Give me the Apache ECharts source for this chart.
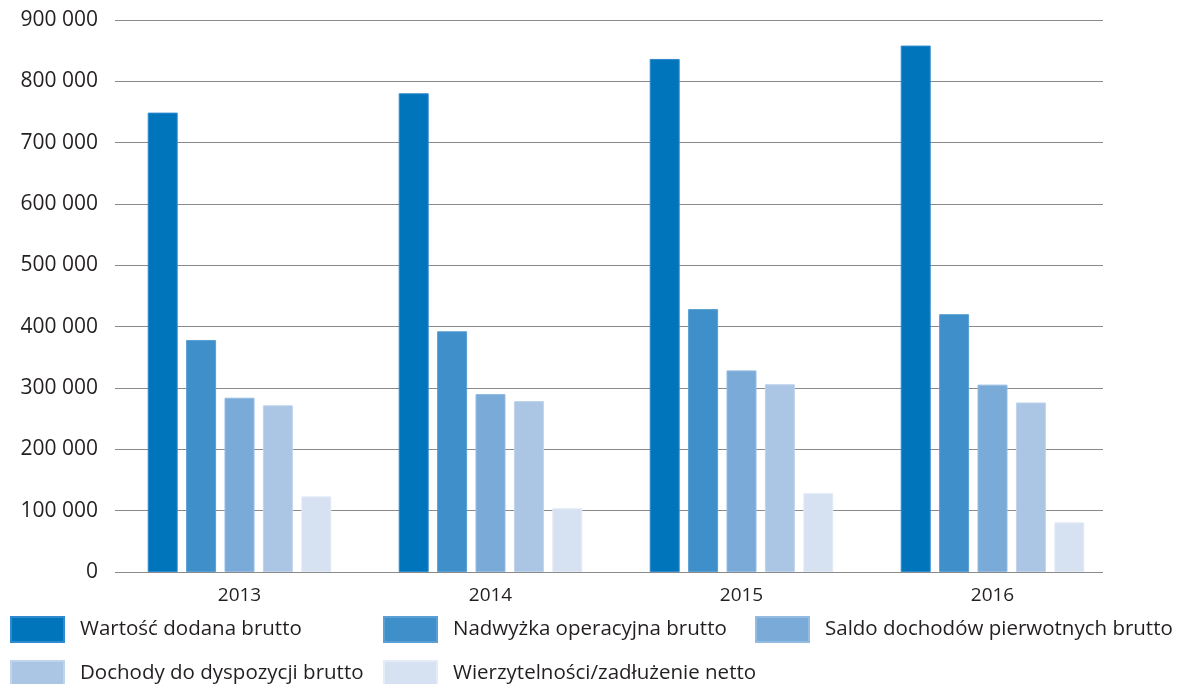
<!DOCTYPE html>
<html><head><meta charset="utf-8">
<script src="https://cdn.jsdelivr.net/npm/echarts@6/dist/echarts.min.js"></script>
<style>html,body{margin:0;padding:0;background:#fff}#c{width:1179px;height:684px}</style>
</head><body><div id="c"></div>
<script>
const categories = ['2013', '2014', '2015', '2016'];
const seriesNames = ['Wartość dodana brutto', 'Nadwyżka operacyjna brutto', 'Saldo dochodów pierwotnych brutto', 'Dochody do dyspozycji brutto', 'Wierzytelności/zadłużenie netto'];
const wartoscDodana = [749000, 780500, 836500, 858300];
const nadwyzka = [378300, 392500, 428700, 420400];
const saldoDochodow = [284200, 290200, 328700, 305500];
const dochodyDyspozycji = [271800, 278800, 306200, 276400];
const wierzytelnosci = [123400, 103800, 128700, 81000];
const yMin = 0, yMax = 900000, yStep = 100000;
const seriesValues = [wartoscDodana, nadwyzka, saldoDochodow, dochodyDyspozycji, wierzytelnosci];
const colors = ['#0075bc', '#3f8fca', '#7aaad8', '#abc5e5', '#d6e2f2'];
const borders = ['#2f8ad0', '#5aa0d4', '#94bce2', '#c0d4ec', '#e4ecf7'];
const FONT = 'Open Sans';
const legendPos = [[5, 611], [378, 611], [750, 611], [5, 655], [378, 655]];

const chart = echarts.init(document.getElementById('c'));
chart.setOption({
  animation: false,
  color: colors,
  grid: [
    { left: 114, right: 61, top: 20, bottom: 112, containLabel: false },
    { left: 115, right: 76, top: 20, bottom: 112, containLabel: false }
  ],
  legend: seriesNames.map((n, i) => ({
    data: [n], left: legendPos[i][0], top: legendPos[i][1],
    itemWidth: 53, itemHeight: 25, icon: 'rect',
    textStyle: { fontFamily: FONT, fontSize: 20.5, color: '#231f20', padding: [0, 0, 0, 11] },
    selectedMode: false
  })),
  xAxis: [
    {
      type: 'category', data: categories, gridIndex: 0,
      axisLine: { show: false },
      axisTick: { show: false },
      axisLabel: { fontFamily: FONT, fontSize: 19, color: '#231f20', margin: 14 }
    },
    { type: 'category', data: categories, gridIndex: 1, show: false }
  ],
  yAxis: [
    { type: 'value', min: yMin, max: yMax, interval: yStep, gridIndex: 0, show: false, splitLine: { show: false } },
    {
      type: 'value', min: yMin, max: yMax, interval: yStep, gridIndex: 1,
      axisLine: { show: false }, axisTick: { show: false },
      splitLine: { lineStyle: { color: '#8a8a8a', width: 1 } },
      axisLabel: {
        fontFamily: FONT, fontSize: 21, color: '#231f20', margin: 17,
        formatter: v => String(v).replace(/\B(?=(\d{3})+(?!\d))/g, ' ')
      }
    }
  ],
  series: seriesNames.map((n, i) => ({
    name: n, type: 'bar', data: seriesValues[i], xAxisIndex: 0, yAxisIndex: 0,
    barWidth: 30, barGap: '28%', z: 3,
    itemStyle: { color: colors[i], borderColor: borders[i], borderWidth: 1 }
  }))
});
</script></body></html>
